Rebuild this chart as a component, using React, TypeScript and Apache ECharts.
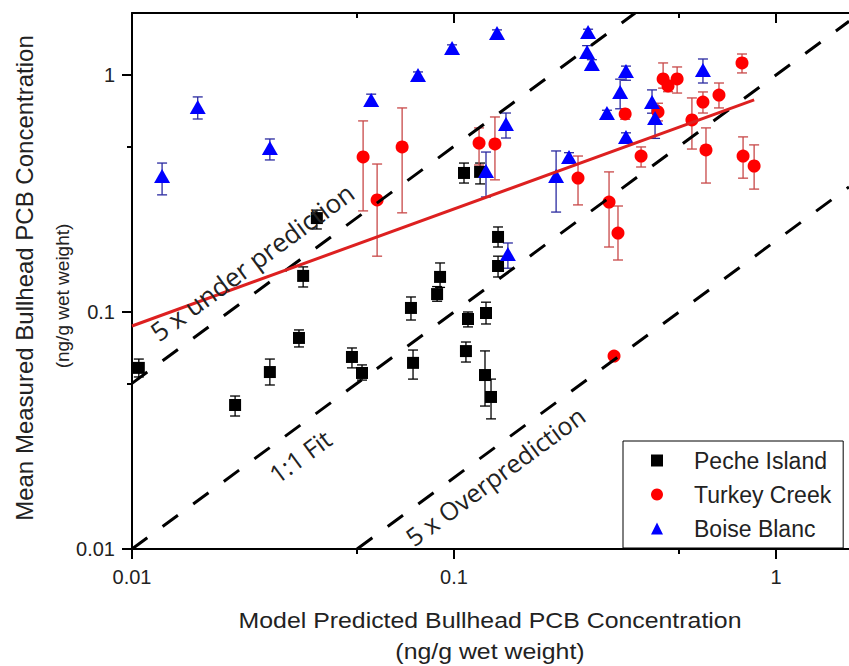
import React, { useEffect, useRef } from "react";
import * as echarts from "echarts";

const X_MIN = 0.01;
const X_MAX = 1.685;
const Y_MIN = 0.01;
const Y_MAX = 1.826;
const majorTicks = [0.01, 0.1, 1];
const minorTicks = [0.05, 0.5];

const seriesNames = ["Peche Island", "Turkey Creek", "Boise Blanc"];

// [predicted x, measured y, y lower, y upper]
const pecheIsland = [
  [0.0105, 0.0581, 0.0532, 0.0633],
  [0.0209, 0.0405, 0.0364, 0.0442],
  [0.0268, 0.0558, 0.0492, 0.0633],
  [0.033, 0.0777, 0.0712, 0.084],
  [0.034, 0.142, 0.1275, 0.155],
  [0.0375, 0.249, 0.224, 0.269],
  [0.0482, 0.0646, 0.0581, 0.0705],
  [0.0518, 0.0553, 0.0516, 0.0598],
  [0.0735, 0.104, 0.0925, 0.1157],
  [0.0746, 0.061, 0.0521, 0.0691],
  [0.0905, 0.1406, 0.127, 0.161],
  [0.0886, 0.119, 0.111, 0.128],
  [0.1105, 0.0934, 0.0865, 0.1],
  [0.1089, 0.0684, 0.0615, 0.0747],
  [0.1257, 0.099, 0.089, 0.11],
  [0.1248, 0.0542, 0.0401, 0.0685],
  [0.1303, 0.0438, 0.0354, 0.0521],
  [0.137, 0.2073, 0.188, 0.2284],
  [0.137, 0.1563, 0.1405, 0.172],
  [0.1074, 0.386, 0.35, 0.425],
  [0.1205, 0.39, 0.347, 0.425],
];

const turkeyCreek = [
  [0.0522, 0.451, 0.267, 0.64],
  [0.0577, 0.297, 0.172, 0.421],
  [0.069, 0.497, 0.262, 0.726],
  [0.1196, 0.516, 0.417, 0.598],
  [0.134, 0.512, 0.361, 0.665],
  [0.2427, 0.3675, 0.283, 0.455],
  [0.303, 0.291, 0.188, 0.39],
  [0.323, 0.2154, 0.1657, 0.28],
  [0.34, 0.685, 0.65, 0.71],
  [0.381, 0.455, 0.409, 0.497],
  [0.43, 0.698, 0.64, 0.76],
  [0.446, 0.962, 0.88, 1.124],
  [0.462, 0.899, 0.85, 0.95],
  [0.493, 0.962, 0.839, 1.081],
  [0.548, 0.646, 0.487, 0.8],
  [0.593, 0.769, 0.691, 0.848],
  [0.606, 0.483, 0.35, 0.598],
  [0.665, 0.823, 0.726, 0.925],
  [0.784, 1.124, 1.02, 1.226],
  [0.79, 0.455, 0.367, 0.548],
  [0.855, 0.413, 0.33, 0.507],
  [0.314, 0.0652, 0.063, 0.067],
];

const boiseBlanc = [
  [0.0124, 0.375, 0.312, 0.425],
  [0.016, 0.733, 0.652, 0.808],
  [0.0268, 0.492, 0.438, 0.537],
  [0.0553, 0.784, 0.755, 0.83],
  [0.0773, 1.0, 0.97, 1.03],
  [0.0986, 1.3, 1.26, 1.34],
  [0.136, 1.504, 1.46, 1.55],
  [0.145, 0.621, 0.542, 0.691],
  [0.1257, 0.3935, 0.3056, 0.473],
  [0.2075, 0.375, 0.264, 0.478],
  [0.2276, 0.451, 0.43, 0.47],
  [0.2608, 1.518, 1.48, 1.56],
  [0.259, 1.25, 1.18, 1.33],
  [0.268, 1.113, 1.07, 1.16],
  [0.342, 1.04, 0.95, 1.09],
  [0.328, 0.848, 0.72, 0.96],
  [0.2985, 0.691, 0.67, 0.71],
  [0.342, 0.548, 0.53, 0.57],
  [0.412, 0.769, 0.69, 0.865],
  [0.421, 0.659, 0.54, 0.74],
  [0.593, 1.05, 0.925, 1.168],
  [0.147, 0.1757, 0.153, 0.1955],
];

// reference lines (x, y)
const oneToOneLine = [
  [X_MIN, X_MIN],
  [X_MAX, X_MAX],
];
const underPrediction5x = [
  [0.01, 0.05],
  [0.3652, 1.826],
];
const overPrediction5x = [
  [0.05, 0.01],
  [1.685, 0.337],
];
const regressionLine = [
  [0.01, 0.0873],
  [0.855, 0.785],
];

const xTitle = "Model Predicted Bullhead PCB Concentration";
const yTitle = "Mean Measured Bullhead PCB Concentration";
const unitTitle = "(ng/g wet weight)";

const FONT = "'Liberation Sans', Arial, sans-serif";
const LABEL_FONT = "'Open Sans', 'Noto Sans', sans-serif";

const fmt = (v: number) => String(Number(Number(v).toPrecision(6)));

function errorBars(name: string, data: number[][], color: string) {
  return {
    name,
    type: "custom",
    xAxisIndex: 0,
    yAxisIndex: 0,
    silent: true,
    z: 2,
    data: data.map((d) => [d[0], d[2], d[3]]),
    encode: { x: 0, y: [1, 2] },
    renderItem: (params: any, api: any) => {
      const x = api.value(0);
      const lo = api.coord([x, api.value(1)]);
      const hi = api.coord([x, api.value(2)]);
      const hw = 5;
      const style = { stroke: color, lineWidth: 1.3 };
      return {
        type: "group",
        children: [
          { type: "line", shape: { x1: lo[0], y1: lo[1], x2: hi[0], y2: hi[1] }, style },
          { type: "line", shape: { x1: lo[0] - hw, y1: lo[1], x2: lo[0] + hw, y2: lo[1] }, style },
          { type: "line", shape: { x1: hi[0] - hw, y1: hi[1], x2: hi[0] + hw, y2: hi[1] }, style },
        ],
      };
    },
  };
}

function refLine(name: string, data: number[][], color: string, type: any, width: number) {
  return {
    name,
    type: "line",
    xAxisIndex: 0,
    yAxisIndex: 0,
    data,
    symbol: "none",
    silent: true,
    z: 4,
    lineStyle: { color, type, width, cap: "butt" },
  };
}

const axisLineStyle = { color: "#000", width: 2 };

function logAxis(min: number, max: number) {
  return {
    type: "log",
    logBase: 10,
    min,
    max,
    splitLine: { show: false },
    minorTick: { show: false },
    minorSplitLine: { show: false },
  };
}

export default function App() {
  const ref = useRef<HTMLDivElement>(null);
  useEffect(() => {
    document.body.style.margin = "0";
    const chart = echarts.init(ref.current!, null, { renderer: "svg" });
    const option: any = {
      animation: false,
      backgroundColor: "#fff",
      grid: { left: 132, right: 0, top: 13, bottom: 117, outerBoundsMode: "none" },
      xAxis: [
        {
          ...logAxis(X_MIN, X_MAX),
          position: "bottom",
          axisLine: { show: true, onZero: false, lineStyle: axisLineStyle },
          axisTick: { show: true, customValues: majorTicks, length: 10, lineStyle: axisLineStyle },
          axisLabel: {
            customValues: majorTicks,
            formatter: fmt,
            fontSize: 20,
            color: "#222",
            margin: 18,
            fontFamily: FONT,
          },
        },
        {
          ...logAxis(X_MIN, X_MAX),
          position: "bottom",
          axisLine: { show: false, onZero: false },
          axisTick: { show: true, customValues: minorTicks, length: 5, lineStyle: axisLineStyle },
          axisLabel: { show: false },
        },
        {
          ...logAxis(X_MIN, X_MAX),
          position: "top",
          axisLine: { show: true, onZero: false, lineStyle: axisLineStyle },
          axisTick: { show: true, inside: true, customValues: majorTicks, length: 10, lineStyle: axisLineStyle },
          axisLabel: { show: false },
        },
        {
          ...logAxis(X_MIN, X_MAX),
          position: "top",
          axisLine: { show: false, onZero: false },
          axisTick: { show: true, inside: true, customValues: minorTicks, length: 5, lineStyle: axisLineStyle },
          axisLabel: { show: false },
        },
      ],
      yAxis: [
        {
          ...logAxis(Y_MIN, Y_MAX),
          position: "left",
          axisLine: { show: true, onZero: false, lineStyle: axisLineStyle },
          axisTick: { show: true, customValues: majorTicks, length: 10, lineStyle: axisLineStyle },
          axisLabel: {
            customValues: majorTicks,
            formatter: fmt,
            fontSize: 20,
            color: "#222",
            margin: 17,
            fontFamily: FONT,
          },
        },
        {
          ...logAxis(Y_MIN, Y_MAX),
          position: "left",
          axisLine: { show: false, onZero: false },
          axisTick: { show: true, customValues: minorTicks, length: 5, lineStyle: axisLineStyle },
          axisLabel: { show: false },
        },
      ],
      legend: {
        orient: "vertical",
        left: 623,
        top: 441,
        data: seriesNames,
        backgroundColor: "#fff",
        borderColor: "#000",
        borderWidth: 1,
        borderRadius: 0,
        padding: [8, 12, 8, 28],
        itemGap: 11,
        itemWidth: 12,
        itemHeight: 12,
        textStyle: { fontSize: 23, lineHeight: 20, color: "#222", fontFamily: FONT, padding: [0, 0, 0, 26] },
      },
      graphic: [
        {
          type: "text",
          x: 490,
          y: 621,
          scaleX: 1.13,
          style: { text: xTitle, font: `22px ${FONT}`, fill: "#222", align: "center", verticalAlign: "middle" },
        },
        {
          type: "text",
          x: 490,
          y: 652,
          scaleX: 1.13,
          style: { text: unitTitle, font: `22px ${FONT}`, fill: "#222", align: "center", verticalAlign: "middle" },
        },
        {
          type: "text",
          x: 24,
          y: 278,
          rotation: Math.PI / 2,
          style: { text: yTitle, font: `24px ${FONT}`, fill: "#222", align: "center", verticalAlign: "middle" },
        },
        {
          type: "text",
          x: 62,
          y: 296,
          rotation: Math.PI / 2,
          style: { text: unitTitle, font: `19px ${FONT}`, fill: "#222", align: "center", verticalAlign: "middle" },
        },
        {
          type: "text",
          x: 252,
          y: 262,
          rotation: 0.635,
          z: 10,
          style: { text: "5 x under prediction", font: `26px ${LABEL_FONT}`, fill: "#222", align: "center", verticalAlign: "middle" },
        },
        {
          type: "text",
          x: 300,
          y: 456,
          rotation: 0.635,
          z: 10,
          style: { text: "1:1 Fit", font: `25px ${LABEL_FONT}`, fill: "#222", align: "center", verticalAlign: "middle" },
        },
        {
          type: "text",
          x: 495,
          y: 476,
          rotation: 0.635,
          z: 10,
          style: { text: "5 x Overprediction", font: `25px ${LABEL_FONT}`, fill: "#222", align: "center", verticalAlign: "middle" },
        },
      ],
      series: [
        errorBars("Peche Island error", pecheIsland, "#000"),
        errorBars("Turkey Creek error", turkeyCreek, "#c84848"),
        errorBars("Boise Blanc error", boiseBlanc, "#2a2aa0"),
        {
          name: "Peche Island",
          type: "scatter",
          symbol: "rect",
          symbolSize: 12,
          itemStyle: { color: "#000", opacity: 1 },
          data: pecheIsland.map((d) => [d[0], d[1]]),
          z: 3,
        },
        {
          name: "Turkey Creek",
          type: "scatter",
          symbol: "circle",
          symbolSize: 13,
          itemStyle: { color: "#ff0000", opacity: 1 },
          data: turkeyCreek.map((d) => [d[0], d[1]]),
          z: 3,
        },
        {
          name: "Boise Blanc",
          type: "scatter",
          symbol: "triangle",
          symbolSize: [16, 14],
          itemStyle: { color: "#0000ff", opacity: 1 },
          data: boiseBlanc.map((d) => [d[0], d[1]]),
          z: 3,
        },
        refLine("1:1 Fit", oneToOneLine, "#000", [19, 19], 3),
        refLine("5 x under prediction", underPrediction5x, "#000", [19, 19], 3),
        refLine("5 x Overprediction", overPrediction5x, "#000", [19, 19], 3),
        refLine("Regression", regressionLine, "#dd2020", "solid", 3),
      ],
    };
    chart.setOption(option);
    return () => chart.dispose();
  }, []);
  return <div ref={ref} style={{ width: 849, height: 666, background: "#fff" }} />;
}
